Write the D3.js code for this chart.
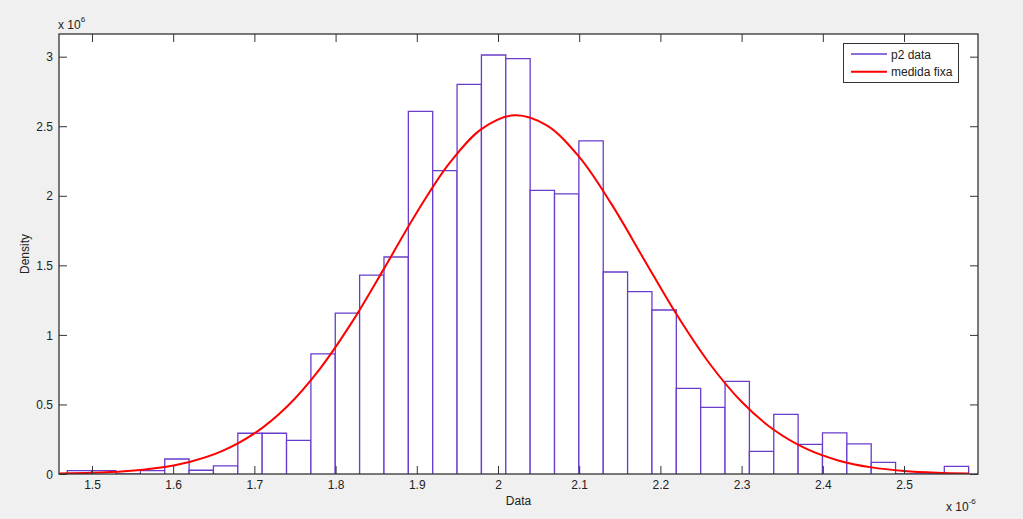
<!DOCTYPE html>
<html><head><meta charset="utf-8">
<script src="https://cdn.jsdelivr.net/npm/d3@7"></script>
<style>
html,body{margin:0;padding:0;background:#f0f0f0;}
svg{display:block;}
text{font-family:"Liberation Sans",Arial,sans-serif;fill:#222;}
</style></head>
<body><svg id="c" width="1023" height="519"></svg>
<script>
// ---- data (x in units of 1e-6, density in units of 1e6) ----
const binLefts = [1.4696,1.4996,1.5296,1.5596,1.5896,1.6196,1.6496,1.6796,1.7096,1.7396,
  1.7696,1.7996,1.8296,1.8596,1.8896,1.9196,1.9496,1.9796,2.0096,2.0396,
  2.0696,2.0996,2.1296,2.1596,2.1896,2.2196,2.2496,2.2796,2.3096,2.3396,
  2.3696,2.3996,2.4296,2.4596,2.4896,2.5196,2.5496];
const binRights = [1.4996,1.5296,1.5596,1.5896,1.6196,1.6496,1.6796,1.7096,1.7396,1.7696,
  1.7996,1.8296,1.8596,1.8896,1.9196,1.9496,1.9796,2.0096,2.0396,2.0696,
  2.0996,2.1296,2.1596,2.1896,2.2196,2.2496,2.2796,2.3096,2.3396,2.3696,
  2.3996,2.4296,2.4596,2.4896,2.5196,2.5496,2.5796];
const densities = [0.024,0.024,0,0.024,0.108,0.027,0.058,0.293,0.293,0.242,
  0.863,1.157,1.43,1.56,2.607,2.181,2.801,3.012,2.986,2.039,
  2.013,2.394,1.452,1.311,1.179,0.616,0.479,0.666,0.163,0.429,
  0.213,0.295,0.216,0.084,0,0,0.055];
const fitX = [1.46,1.50,1.54,1.58,1.62,1.66,1.70,1.74,1.78,1.82,1.86,1.90,1.94,1.98,2.02,
  2.06,2.10,2.14,2.18,2.22,2.26,2.30,2.34,2.38,2.42,2.46,2.50,2.54,2.58];
const fitY = [0.0034,0.0085,0.0197,0.0427,0.0867,0.164,0.2915,0.484,0.751,1.090,1.480,1.880,2.233,2.481,2.5785,
  2.506,2.279,1.938,1.541,1.146,0.798,0.519,0.316,0.180,0.0958,0.0477,0.0222,0.0097,0.0040];
const xTicks = [1.5,1.6,1.7,1.8,1.9,2.0,2.1,2.2,2.3,2.4,2.5];
const xTickLabels = ["1.5","1.6","1.7","1.8","1.9","2","2.1","2.2","2.3","2.4","2.5"];
const yTicks = [0,0.5,1,1.5,2,2.5,3];
const yTickLabels = ["0","0.5","1","1.5","2","2.5","3"];
const seriesNames = ["p2 data","medida fixa"];

// ---- layout ----
const L=59,T=34,R=978,B=474;
const barColor="#6a3ccc", fitColor="#ff0000", axColor="#333";
const svg=d3.select("#c");
const x=d3.scaleLinear().domain([1.4594,2.5911]).range([L,R]);
const y=d3.scaleLinear().domain([0,3.163]).range([B,T]);

svg.append("rect").attr("x",L).attr("y",T).attr("width",R-L).attr("height",B-T).attr("fill","#fff");

const clip=svg.append("clipPath").attr("id","clip").append("rect")
  .attr("x",L).attr("y",T).attr("width",R-L).attr("height",B-T);
const plot=svg.append("g").attr("clip-path","url(#clip)");

// bars
plot.selectAll("path.bar").data(densities).join("path").attr("class","bar")
  .attr("d",(d,i)=>{const x0=x(binLefts[i]),x1=x(binRights[i]),y0=y(0),y1=y(d);
    return `M${x0},${y0}V${y1}H${x1}V${y0}`;})
  .attr("fill","#fff").attr("stroke",barColor).attr("stroke-width",1.3);

// fitted curve
const line=d3.line().x((d,i)=>x(fitX[i])).y(d=>y(d)).curve(d3.curveCatmullRom);
plot.append("path").datum(fitY).attr("d",line).attr("fill","none")
  .attr("stroke",fitColor).attr("stroke-width",2);

// axes
const tl=8;
const xb=svg.append("g").attr("transform",`translate(0,${B})`)
  .call(d3.axisBottom(x).tickValues(xTicks).tickSizeInner(-tl).tickSizeOuter(0).tickFormat((d,i)=>xTickLabels[i]));
const xt=svg.append("g").attr("transform",`translate(0,${T})`)
  .call(d3.axisTop(x).tickValues(xTicks).tickSizeInner(-tl).tickSizeOuter(0).tickFormat(""));
const yl=svg.append("g").attr("transform",`translate(${L},0)`)
  .call(d3.axisLeft(y).tickValues(yTicks).tickSizeInner(-tl).tickSizeOuter(0).tickFormat((d,i)=>yTickLabels[i]));
const yr=svg.append("g").attr("transform",`translate(${R},0)`)
  .call(d3.axisRight(y).tickValues(yTicks).tickSizeInner(-tl).tickSizeOuter(0).tickFormat(""));
[xb,xt,yl,yr].forEach(g=>{
  g.select(".domain").remove();
  g.selectAll(".tick line").attr("stroke",axColor).attr("stroke-width",1);
  g.selectAll(".tick text").attr("font-size",12).attr("font-family","Liberation Sans, Arial, sans-serif").attr("fill","#222");
});
xb.selectAll(".tick text").attr("dy",0).attr("y",15);
yl.selectAll(".tick text").attr("x",-6).attr("dy","0.35em");

svg.append("rect").attr("x",L).attr("y",T).attr("width",R-L).attr("height",B-T)
  .attr("fill","none").attr("stroke",axColor).attr("stroke-width",1.3);

// labels
svg.append("text").attr("x",(L+R)/2).attr("y",505).attr("text-anchor","middle").attr("font-size",12).text("Data");
svg.append("text").attr("transform",`translate(29,${(T+B)/2}) rotate(-90)`).attr("text-anchor","middle").attr("font-size",12).text("Density");

const e1=svg.append("text").attr("x",58).attr("y",29).attr("font-size",12);
e1.append("tspan").text("x 10");
e1.append("tspan").attr("font-size",8).attr("dy",-7).text("6");
const e2=svg.append("text").attr("x",946).attr("y",511).attr("font-size",12);
e2.append("tspan").text("x 10");
e2.append("tspan").attr("font-size",8).attr("dy",-7).text("-6");

// legend
const lg=svg.append("g");
lg.append("rect").attr("x",843.5).attr("y",43.5).attr("width",115).attr("height",39)
  .attr("fill","#fff").attr("stroke",axColor).attr("stroke-width",1);
const lcol=[barColor,fitColor];
seriesNames.forEach((n,i)=>{
  const yy=54+i*17.7;
  lg.append("line").attr("x1",851).attr("x2",887).attr("y1",yy).attr("y2",yy)
    .attr("stroke",lcol[i]).attr("stroke-width",i?2:1.3);
  lg.append("text").attr("x",891).attr("y",yy+4.5).attr("font-size",12).text(n);
});
</script></body></html>
